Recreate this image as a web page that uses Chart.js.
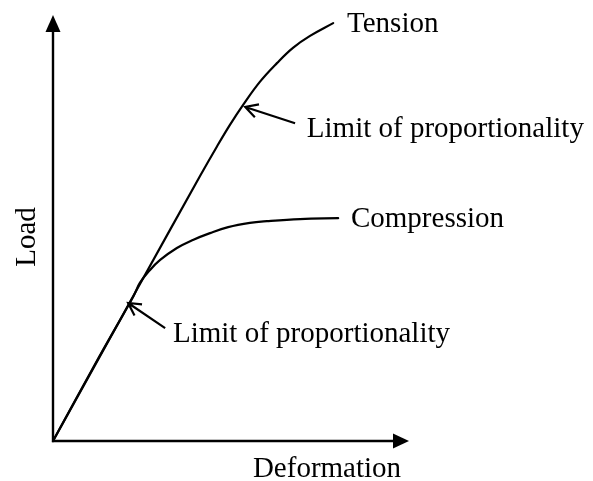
<!DOCTYPE html>
<html>
<head>
<meta charset="utf-8">
<script src="https://cdn.jsdelivr.net/npm/chart.js@4/dist/chart.umd.min.js"></script>
<style>
html,body{margin:0;padding:0;background:#fff;}
#wrap{width:593px;height:481px;}
</style>
</head>
<body>
<div id="wrap"><canvas id="c" width="593" height="481"></canvas></div>
<script>
// Curves (deformation, load), arbitrary units 0..100
const tensionX = [0, 24, 41.3, 46.1, 49.7, 53.4, 58.1, 62.9, 67.4, 72.2, 78.7];
const tensionY = [0, 36.2, 62.2, 69.2, 74.2, 78.9, 84.3, 88.7, 92.3, 95.1, 98.1];
const compressionX = [0, 12, 22.6, 24.4, 27.2, 30.1, 34.8, 39.3, 44.1, 49.2, 55.3, 60.1, 69.4, 80.1];
const compressionY = [0, 18.3, 34.0, 37.1, 40.1, 42.5, 45.3, 47.2, 48.8, 50.2, 51.2, 51.6, 52.1, 52.3];

const axisTitles = ["Deformation", "Load"];
const curveLabels = ["Tension", "Compression"];
const curveLabelAt = [[82.6, 96.0], [83.7, 50.2]];
const limitLabel = "Limit of proportionality";
// arrow tip and tail (data units) and label anchor for each limit
const limitTips = [[54.0, 78.4], [21.1, 32.4]];
const limitTails = [[68.0, 74.6], [31.5, 26.5]];
const limitLabelAt = [[71.3, 71.4], [33.7, 23.2]];

const FONT = '29px "Liberation Serif", "Times New Roman", serif';

function toPts(xs, ys) { return xs.map((x, i) => ({x: x, y: ys[i]})); }

const annot = {
  id: 'annot',
  afterDraw(chart) {
    const ctx = chart.ctx, xs = chart.scales.x, ys = chart.scales.y, a = chart.chartArea;
    const px = v => xs.getPixelForValue(v), py = v => ys.getPixelForValue(v);
    ctx.save();
    ctx.strokeStyle = '#000'; ctx.fillStyle = '#000';
    // axes
    ctx.lineWidth = 2.4;
    ctx.beginPath();
    ctx.moveTo(a.left, a.bottom); ctx.lineTo(a.left, a.top + 12);
    ctx.moveTo(a.left - 1.2, a.bottom); ctx.lineTo(a.right - 12, a.bottom);
    ctx.stroke();
    ctx.beginPath();
    ctx.moveTo(a.left, a.top); ctx.lineTo(a.left - 7.5, a.top + 17); ctx.lineTo(a.left + 7.5, a.top + 17); ctx.closePath();
    ctx.fill();
    ctx.beginPath();
    ctx.moveTo(a.right, a.bottom); ctx.lineTo(a.right - 16, a.bottom - 7.5); ctx.lineTo(a.right - 16, a.bottom + 7.5); ctx.closePath();
    ctx.fill();
    // limit arrows
    ctx.lineWidth = 2.2;
    for (let i = 0; i < limitTips.length; i++) {
      const tx = px(limitTips[i][0]), ty = py(limitTips[i][1]);
      const sx = px(limitTails[i][0]), sy = py(limitTails[i][1]);
      const ang = Math.atan2(sy - ty, sx - tx);
      const L = 14, sp = 0.5;
      ctx.beginPath();
      ctx.moveTo(sx, sy); ctx.lineTo(tx, ty);
      ctx.moveTo(tx + L * Math.cos(ang - sp), ty + L * Math.sin(ang - sp));
      ctx.lineTo(tx, ty);
      ctx.lineTo(tx + L * Math.cos(ang + sp), ty + L * Math.sin(ang + sp));
      ctx.stroke();
    }
    // texts
    ctx.font = FONT;
    ctx.textBaseline = 'alphabetic';
    ctx.textAlign = 'left';
    for (let i = 0; i < curveLabels.length; i++) {
      ctx.fillText(curveLabels[i], px(curveLabelAt[i][0]), py(curveLabelAt[i][1]));
    }
    for (let i = 0; i < limitLabelAt.length; i++) {
      ctx.fillText(limitLabel, px(limitLabelAt[i][0]), py(limitLabelAt[i][1]));
    }
    // axis titles
    ctx.textAlign = 'center';
    ctx.fillText(axisTitles[0], (a.left + a.right) / 2 + 96, a.bottom + 36);
    ctx.save();
    ctx.translate(a.left - 18, (a.top + a.bottom) / 2 + 9);
    ctx.rotate(-Math.PI / 2);
    ctx.fillText(axisTitles[1], 0, 0);
    ctx.restore();
    ctx.restore();
  }
};

const lineStyle = {showLine: true, borderColor: '#000', borderWidth: 2.2, pointRadius: 0, tension: 0.4, fill: false, borderCapStyle: 'round', borderJoinStyle: 'round'};

new Chart(document.getElementById('c'), {
  type: 'scatter',
  data: {
    datasets: [
      Object.assign({label: curveLabels[0], data: toPts(tensionX, tensionY)}, lineStyle),
      Object.assign({label: curveLabels[1], data: toPts(compressionX, compressionY)}, lineStyle)
    ]
  },
  options: {
    responsive: false,
    animation: false,
    events: [],
    layout: {padding: {left: 53, top: 15, right: 184, bottom: 40}},
    plugins: {legend: {display: false}, tooltip: {enabled: false}},
    scales: {
      x: {type: 'linear', min: 0, max: 100, display: false},
      y: {type: 'linear', min: 0, max: 100, display: false}
    },
    clip: false
  },
  plugins: [annot]
});
</script>
</body>
</html>
